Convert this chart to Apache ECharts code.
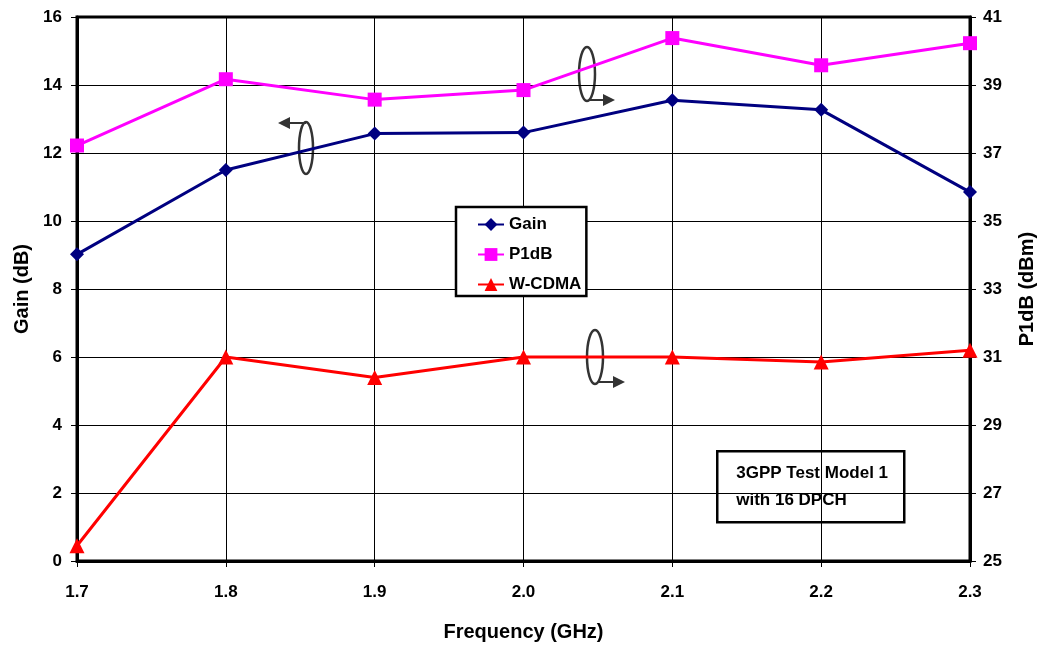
<!DOCTYPE html>
<html>
<head>
<meta charset="utf-8">
<script src="https://cdn.jsdelivr.net/npm/echarts@6/dist/echarts.min.js"></script>
<style>
	html,body{margin:0;padding:0;background:#fff}
	#chart{width:1042px;height:647px}
</style>
</head>
<body>
<div id="chart"></div>
<script type="text/javascript">
	var frequencies = ['1.7', '1.8', '1.9', '2.0', '2.1', '2.2', '2.3'];
	var gainValues = [9.02, 11.5, 12.57, 12.6, 13.55, 13.27, 10.85];
	var p1dbValues = [37.22, 39.17, 38.57, 38.85, 40.38, 39.58, 40.23];
	var wcdmaValues = [25.45, 31.0, 30.4, 31.0, 31.0, 30.85, 31.2];
	var noteLines = ['3GPP Test Model 1', 'with 16 DPCH'];

	var font = "'Liberation Sans', Arial, sans-serif";

	// ellipse marker with an arrow pointing to the axis it belongs to
	function axisMarker(cx, cy, rx, ry, x1, y1, x2) {
		var dir = x2 > x1 ? 1 : -1;
		return {
			type: 'group',
			z: 50,
			children: [
				{type: 'ellipse', shape: {cx: cx, cy: cy, rx: rx, ry: ry},
					style: {fill: null, stroke: '#333', lineWidth: 2.5}},
				{type: 'line', shape: {x1: x1, y1: y1, x2: x2 - dir * 10, y2: y1},
					style: {stroke: '#333', lineWidth: 2}},
				{type: 'polygon', shape: {points: [[x2, y1], [x2 - dir * 12, y1 - 6], [x2 - dir * 12, y1 + 6]]},
					style: {fill: '#333'}}
			]
		};
	}

	var option = {
		animation: false,
		backgroundColor: '#fff',
		textStyle: {fontFamily: font},
		grid: {left: 77, right: 72, top: 17, bottom: 86, outerBoundsMode: 'none', containLabel: false,
			show: true, borderColor: '#000', borderWidth: 3, backgroundColor: 'transparent'},
		legend: {
			orient: 'vertical',
			left: 456, top: 207,
			data: ['Gain', 'P1dB', 'W-CDMA'],
			backgroundColor: '#fff',
			borderColor: '#000', borderWidth: 2.5,
			padding: [9, 5, 3, 21],
			itemWidth: 26, itemHeight: 16, itemGap: 13,
			textStyle: {fontFamily: font, fontWeight: 'bold', fontSize: 17, color: '#000'}
		},
		xAxis: {
			type: 'category',
			data: frequencies,
			boundaryGap: false,
			name: 'Frequency (GHz)',
			nameLocation: 'middle',
			nameGap: 61,
			nameTextStyle: {fontFamily: font, fontWeight: 'bold', fontSize: 20, color: '#000'},
			axisLine: {lineStyle: {color: '#000', width: 3}},
			axisTick: {show: true, length: 6, lineStyle: {color: '#000', width: 1}},
			axisLabel: {margin: 23, fontFamily: font, fontWeight: 'bold', fontSize: 17, color: '#000'},
			splitLine: {show: true, lineStyle: {color: '#000', width: 1}}
		},
		yAxis: [
			{
				type: 'value',
				min: 0, max: 16, interval: 2,
				name: 'Gain (dB)',
				nameLocation: 'middle',
				nameRotate: 90,
				nameGap: 43,
				nameTextStyle: {fontFamily: font, fontWeight: 'bold', fontSize: 20, color: '#000'},
				axisLine: {show: true, lineStyle: {color: '#000', width: 3}},
				axisTick: {show: true, length: 6, lineStyle: {color: '#000', width: 1}},
				axisLabel: {margin: 15, fontFamily: font, fontWeight: 'bold', fontSize: 17, color: '#000'},
				splitLine: {show: true, lineStyle: {color: '#000', width: 1}}
			},
			{
				type: 'value',
				min: 25, max: 41, interval: 2,
				name: 'P1dB (dBm)',
				nameLocation: 'middle',
				nameRotate: 90,
				nameGap: 47,
				nameTextStyle: {fontFamily: font, fontWeight: 'bold', fontSize: 20, color: '#000'},
				axisLine: {show: true, lineStyle: {color: '#000', width: 3}},
				axisTick: {show: true, length: 6, lineStyle: {color: '#000', width: 1}},
				axisLabel: {margin: 13, fontFamily: font, fontWeight: 'bold', fontSize: 17, color: '#000'},
				splitLine: {show: false}
			}
		],
		series: [
			{
				name: 'Gain', type: 'line', yAxisIndex: 0, data: gainValues,
				symbol: 'diamond', symbolSize: 14,
				lineStyle: {color: '#000080', width: 3},
				itemStyle: {color: '#000080'}
			},
			{
				name: 'P1dB', type: 'line', yAxisIndex: 1, data: p1dbValues,
				symbol: 'rect', symbolSize: 14,
				lineStyle: {color: '#ff00ff', width: 3},
				itemStyle: {color: '#ff00ff'}
			},
			{
				name: 'W-CDMA', type: 'line', yAxisIndex: 1, data: wcdmaValues,
				symbol: 'triangle', symbolSize: 15,
				lineStyle: {color: '#ff0000', width: 3},
				itemStyle: {color: '#ff0000'}
			}
		],
		graphic: [
			axisMarker(306, 148, 7, 26, 306, 123, 278),
			axisMarker(587, 74, 8, 27, 590, 100, 615),
			axisMarker(595, 357, 8, 27, 598, 382, 625),
			{
				type: 'group', left: 716, top: 450, z: 40,
				children: [
					{type: 'rect', shape: {x: 0, y: 0, width: 187, height: 71},
						style: {fill: '#fff', stroke: '#000', lineWidth: 2.5}},
					{type: 'text', left: 19, top: 9,
						style: {text: noteLines.join('\n'), font: 'bold 17px ' + font, fill: '#000', lineHeight: 27}}
				]
			}
		]
	};

	var myChart = echarts.init(document.getElementById('chart'));
	myChart.setOption(option);
</script>
</body>
</html>
